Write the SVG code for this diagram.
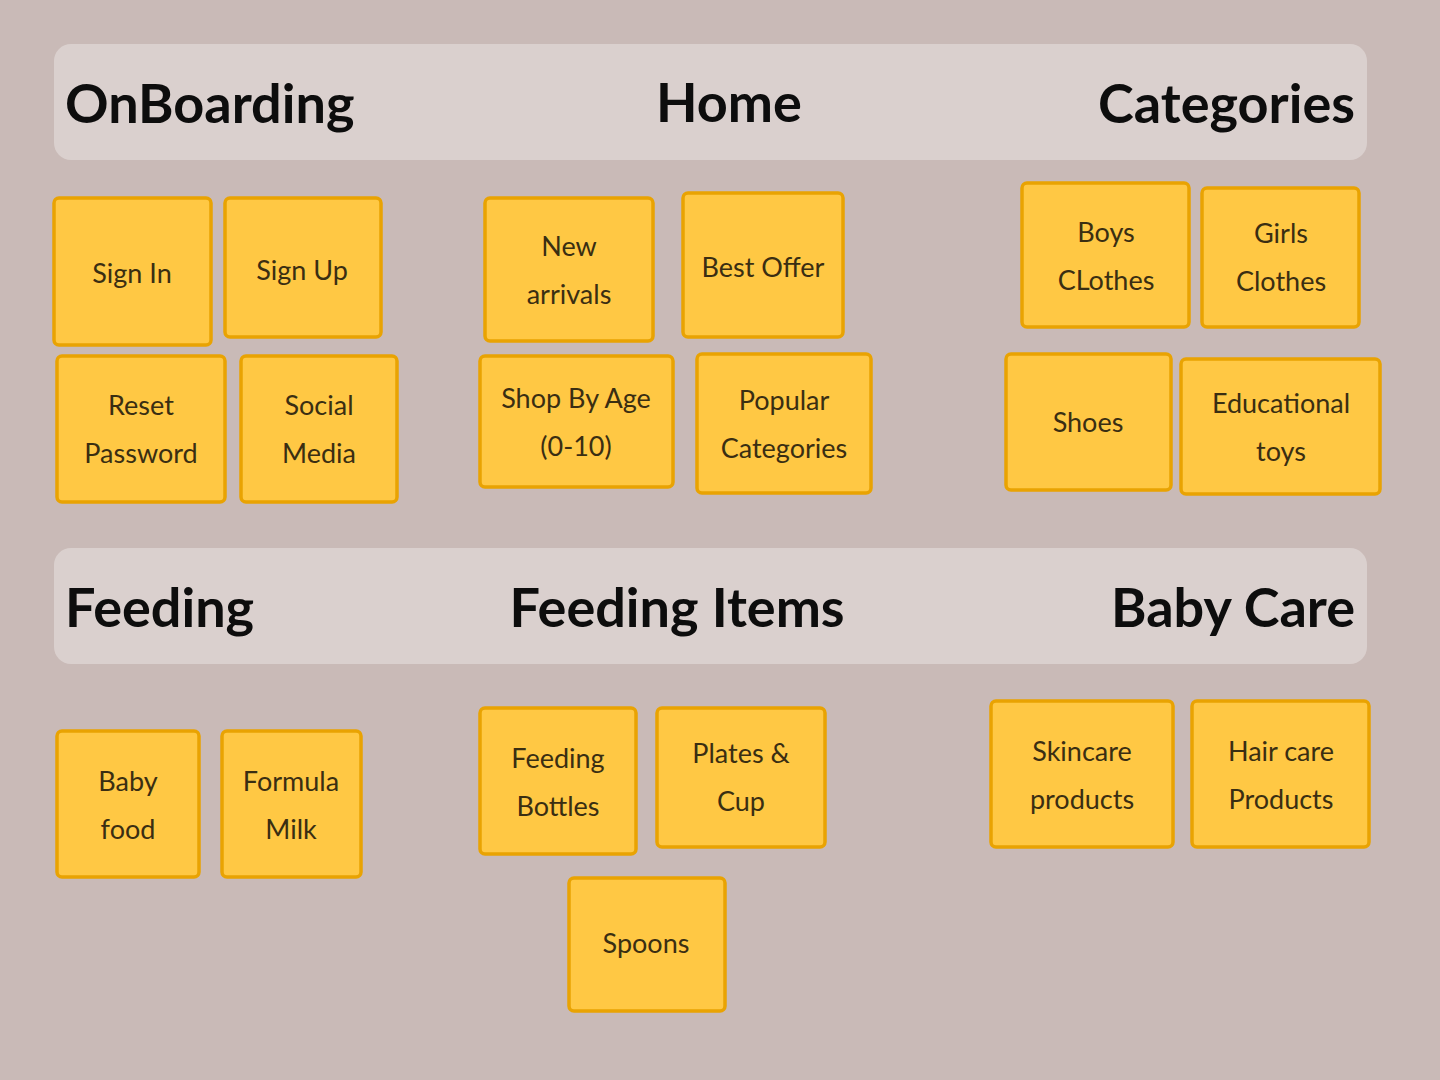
<svg xmlns="http://www.w3.org/2000/svg" width="1440" height="1080" viewBox="0 0 1440 1080">
<style>
.bg{fill:#c9bab7}
.band{fill:#dad0ce}
.note{fill:#ffc844;stroke:#e9a302;stroke-width:3.5}
.t{font-family:"Lato","Open Sans","Liberation Sans",sans-serif;font-size:27px;fill:#3a2e12;text-anchor:middle}
.h{font-family:"Lato","Open Sans","Liberation Sans",sans-serif;font-size:54px;font-weight:bold;fill:#0d0d0d}
</style>
<rect class="bg" x="0" y="0" width="1440" height="1080"/>
<g id="band-top">
<rect class="band" x="54" y="44" width="1313" height="116" rx="17"/>
<text class="h" x="65" y="123">OnBoarding</text>
<text class="h" x="729" y="122" text-anchor="middle">Home</text>
<text class="h" x="1355" y="123" text-anchor="end">Categories</text>
</g>
<g id="band-bottom">
<rect class="band" x="54" y="548" width="1313" height="116" rx="17"/>
<text class="h" x="65" y="627">Feeding</text>
<text class="h" x="677" y="627" text-anchor="middle">Feeding Items</text>
<text class="h" x="1355" y="627" text-anchor="end">Baby Care</text>
</g>
<g id="connectors"></g>
<g id="sign-in"><rect class="note" x="54" y="198" width="157" height="147" rx="5"/><text class="t" x="132" y="283">Sign In</text></g>
<g id="sign-up"><rect class="note" x="225" y="198" width="156" height="139" rx="5"/><text class="t" x="302" y="280">Sign Up</text></g>
<g id="reset-password"><rect class="note" x="57" y="356" width="168" height="146" rx="5"/><text class="t" x="141" y="415">Reset</text><text class="t" x="141" y="463">Password</text></g>
<g id="social-media"><rect class="note" x="241" y="356" width="156" height="146" rx="5"/><text class="t" x="319" y="415">Social</text><text class="t" x="319" y="463">Media</text></g>
<g id="new-arrivals"><rect class="note" x="485" y="198" width="168" height="143" rx="5"/><text class="t" x="569" y="256">New</text><text class="t" x="569" y="304">arrivals</text></g>
<g id="best-offer"><rect class="note" x="683" y="193" width="160" height="144" rx="5"/><text class="t" x="763" y="277">Best Offer</text></g>
<g id="shop-by-age"><rect class="note" x="480" y="356" width="193" height="131" rx="5"/><text class="t" x="576" y="408">Shop By Age</text><text class="t" x="576" y="456">(0-10)</text></g>
<g id="popular-categories"><rect class="note" x="697" y="354" width="174" height="139" rx="5"/><text class="t" x="784" y="410">Popular</text><text class="t" x="784" y="458">Categories</text></g>
<g id="boys-clothes"><rect class="note" x="1022" y="183" width="167" height="144" rx="5"/><text class="t" x="1106" y="242">Boys</text><text class="t" x="1106" y="290">CLothes</text></g>
<g id="girls-clothes"><rect class="note" x="1202" y="188" width="157" height="139" rx="5"/><text class="t" x="1281" y="243">Girls</text><text class="t" x="1281" y="291">Clothes</text></g>
<g id="shoes"><rect class="note" x="1006" y="354" width="165" height="136" rx="5"/><text class="t" x="1088" y="432">Shoes</text></g>
<g id="educational-toys"><rect class="note" x="1181" y="359" width="199" height="135" rx="5"/><text class="t" x="1281" y="413">Educational</text><text class="t" x="1281" y="461">toys</text></g>
<g id="baby-food"><rect class="note" x="57" y="731" width="142" height="146" rx="5"/><text class="t" x="128" y="791">Baby</text><text class="t" x="128" y="839">food</text></g>
<g id="formula-milk"><rect class="note" x="222" y="731" width="139" height="146" rx="5"/><text class="t" x="291" y="791">Formula</text><text class="t" x="291" y="839">Milk</text></g>
<g id="feeding-bottles"><rect class="note" x="480" y="708" width="156" height="146" rx="5"/><text class="t" x="558" y="768">Feeding</text><text class="t" x="558" y="816">Bottles</text></g>
<g id="plates-cup"><rect class="note" x="657" y="708" width="168" height="139" rx="5"/><text class="t" x="741" y="763">Plates &amp;</text><text class="t" x="741" y="811">Cup</text></g>
<g id="spoons"><rect class="note" x="569" y="878" width="156" height="133" rx="5"/><text class="t" x="646" y="953">Spoons</text></g>
<g id="skincare-products"><rect class="note" x="991" y="701" width="182" height="146" rx="5"/><text class="t" x="1082" y="761">Skincare</text><text class="t" x="1082" y="809">products</text></g>
<g id="hair-care-products"><rect class="note" x="1192" y="701" width="177" height="146" rx="5"/><text class="t" x="1281" y="761">Hair care</text><text class="t" x="1281" y="809">Products</text></g>
</svg>
